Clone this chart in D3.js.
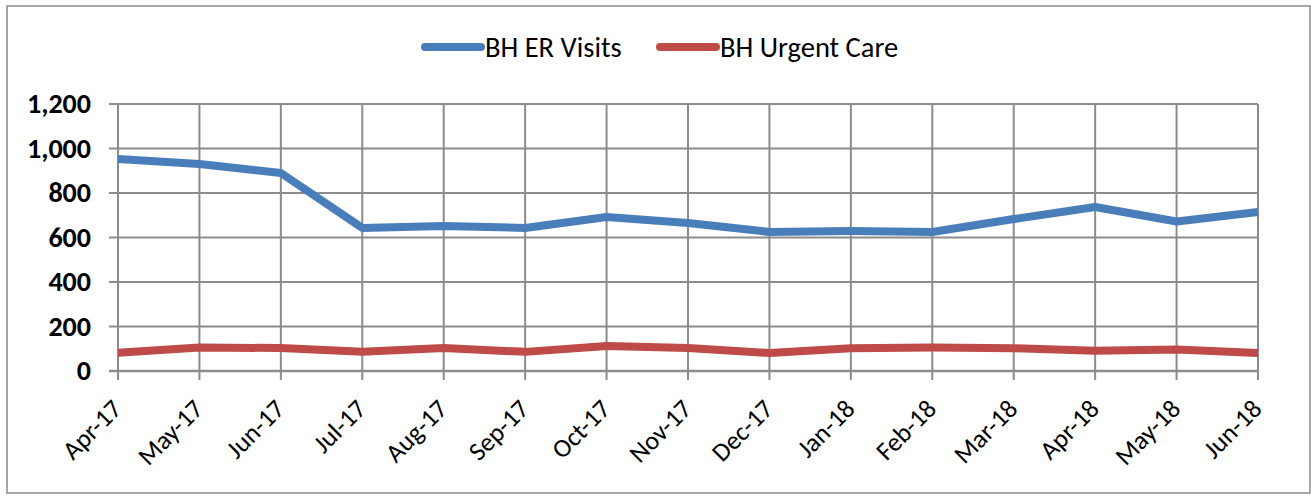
<!DOCTYPE html>
<html>
<head>
<meta charset="utf-8">
<script src="https://cdn.jsdelivr.net/npm/d3@7"></script>
<style>
  body { margin: 0; background: #fff; }
  svg { display: block; }
</style>
</head>
<body>
<div id="chart"></div>
<script>
const months = ['Apr-17', 'May-17', 'Jun-17', 'Jul-17', 'Aug-17', 'Sep-17', 'Oct-17',
  'Nov-17', 'Dec-17', 'Jan-18', 'Feb-18', 'Mar-18', 'Apr-18', 'May-18', 'Jun-18'];
const erVisits = [953, 930, 890, 643, 652, 643, 692, 665, 625, 629, 625, 683, 737, 672, 715];
const urgentCare = [82, 106, 103, 86, 103, 86, 112, 103, 81, 102, 106, 102, 91, 97, 81];
const yTicks = [0, 200, 400, 600, 800, 1000, 1200];

const series = [
  { name: 'BH ER Visits', values: erVisits, color: '#4a7ebb' },
  { name: 'BH Urgent Care', values: urgentCare, color: '#be4b48' }
];

const w = 1311, h = 496;
const plotLeft = 118, plotRight = 1258, plotTop = 104, plotBottom = 371;
const font = "Carlito, Calibri, 'Liberation Sans', Arial, sans-serif";

const svg = d3.select('#chart').append('svg')
  .attr('width', w)
  .attr('height', h);

// outer frame
svg.append('rect')
  .attr('x', 7).attr('y', 6)
  .attr('width', w - 8).attr('height', h - 9)
  .attr('fill', '#fff')
  .attr('stroke', '#8c8c8c')
  .attr('stroke-width', 1.5);

const x = d3.scalePoint().domain(months).range([plotLeft, plotRight]);
const y = d3.scaleLinear().domain([0, 1200]).range([plotBottom, plotTop]);

// horizontal gridlines + y ticks
svg.append('g')
  .selectAll('line')
  .data(yTicks)
  .enter()
  .append('line')
  .attr('x1', plotLeft - 9)
  .attr('x2', plotRight)
  .attr('y1', (d) => y(d))
  .attr('y2', (d) => y(d))
  .attr('stroke', '#8c8c8c')
  .attr('stroke-width', (d) => d === 0 ? 2.5 : 2);

// vertical gridlines + x ticks
svg.append('g')
  .selectAll('line')
  .data(months)
  .enter()
  .append('line')
  .attr('x1', (d) => x(d))
  .attr('x2', (d) => x(d))
  .attr('y1', plotTop)
  .attr('y2', plotBottom + 9)
  .attr('stroke', '#8c8c8c')
  .attr('stroke-width', 2);

// y labels
svg.append('g')
  .selectAll('text')
  .data(yTicks)
  .enter()
  .append('text')
  .text((d) => d3.format(',')(d))
  .attr('x', 91)
  .attr('y', (d) => y(d) + 9)
  .attr('text-anchor', 'end')
  .attr('font-family', font)
  .attr('font-weight', 'bold')
  .attr('font-size', '28px')
  .attr('fill', '#000');

// x labels, rotated
svg.append('g')
  .selectAll('text')
  .data(months)
  .enter()
  .append('text')
  .text((d) => d)
  .attr('transform', (d) => `translate(${x(d) - 1},404) rotate(-45)`)
  .attr('dy', '0.35em')
  .attr('text-anchor', 'end')
  .attr('font-family', font)
  .attr('font-size', '26px')
  .attr('fill', '#000');

// lines
const lineFun = d3.line()
  .x((d, i) => x(months[i]))
  .y((d) => y(d));

svg.append('g')
  .selectAll('path')
  .data(series)
  .enter()
  .append('path')
  .attr('d', (d) => lineFun(d.values))
  .attr('stroke', (d) => d.color)
  .attr('stroke-width', 8)
  .attr('stroke-linejoin', 'round')
  .attr('fill', 'none');

// legend
const legendX = [422, 657];
const legend = svg.append('g')
  .selectAll('g')
  .data(series)
  .enter()
  .append('g')
  .attr('transform', (d, i) => `translate(${legendX[i]},47)`);

legend.append('line')
  .attr('x1', 3).attr('x2', 59)
  .attr('y1', 0).attr('y2', 0)
  .attr('stroke', (d) => d.color)
  .attr('stroke-width', 8)
  .attr('stroke-linecap', 'round');

legend.append('text')
  .text((d) => d.name)
  .attr('x', 63)
  .attr('y', 10)
  .attr('font-family', font)
  .attr('font-size', '28.5px')
  .attr('fill', '#000');
</script>
</body>
</html>
